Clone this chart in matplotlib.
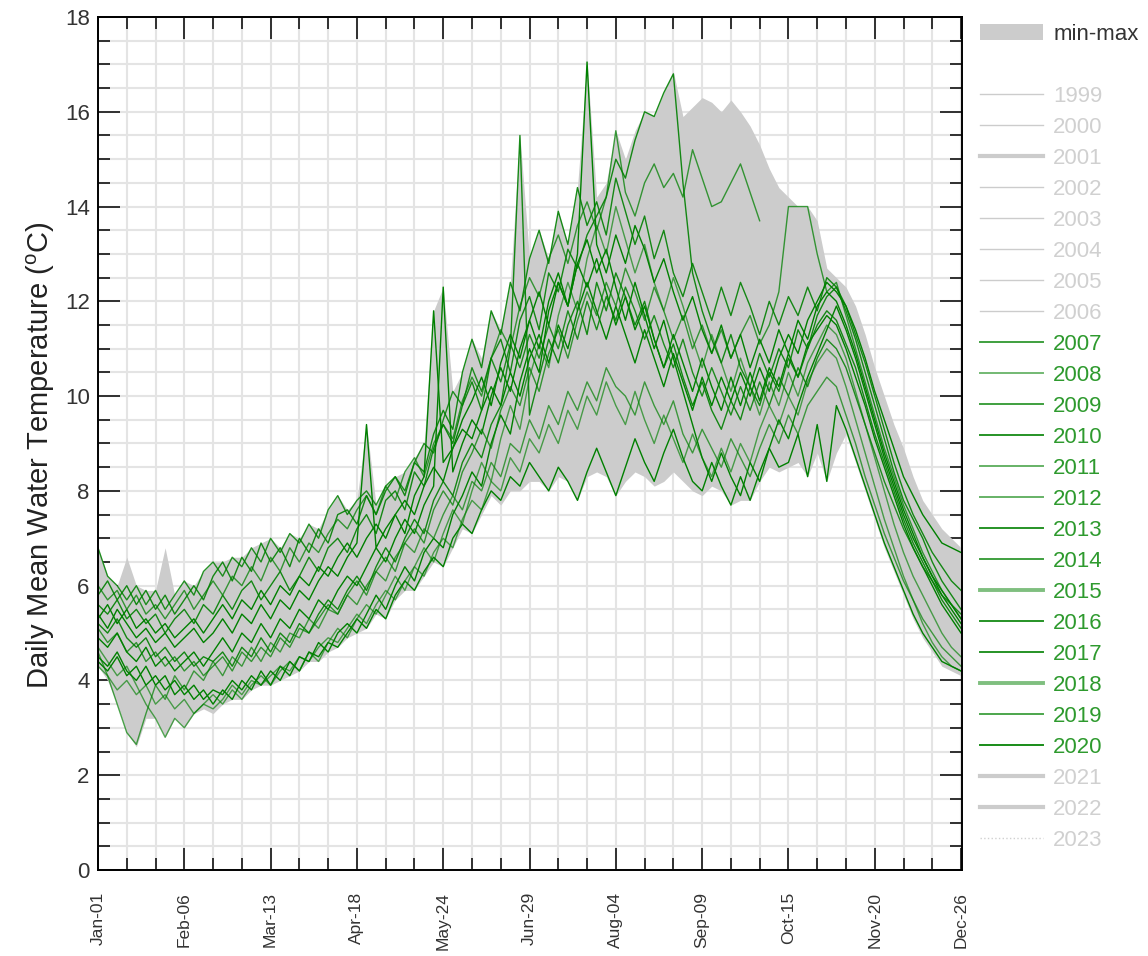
import numpy as np
import matplotlib
matplotlib.use("Agg")
import matplotlib.pyplot as plt
from matplotlib.lines import Line2D
from matplotlib.patches import Patch
from matplotlib.ticker import FixedLocator, MultipleLocator

plt.rcParams["font.family"] = ["Liberation Sans", "DejaVu Sans"]
plt.rcParams["mathtext.default"] = "regular"

nan = np.nan

# day of year, every 4th day (leap-year calendar)
days = np.arange(1, 362, 4)

tick_days = [1, 37, 73, 109, 145, 181, 217, 253, 289, 325, 361]
tick_labels = ["Jan-01", "Feb-06", "Mar-13", "Apr-18", "May-24", "Jun-29",
               "Aug-04", "Sep-09", "Oct-15", "Nov-20", "Dec-26"]

# daily mean water temperature (degC), one list per year
t2007 = [5.6, 5.4, 5.7, 5.3, 5.5, 5.2, 5.4, 5.0, 5.3, 5.5, 5.2, 5.6, 5.4,
         5.8, 5.5, 5.9, 6.1, 5.7, 6.0, 6.3, 5.9, 6.2, 6.6, 6.3, 6.8, 7.0,
         6.7, 7.2, 7.5, 7.1, 7.8, 8.0, 7.6, 8.4, 8.1, 8.9, 9.4, 9.0, 9.8,
         10.3, 9.7, 10.8, 11.2, 10.5, 11.6, 12.1, 11.4, 12.6, 12.2, 13.1, 12.7, 13.4,
         13.8, 14.2, 15.0, 14.6, 15.4, 16.0, 15.9, 16.4, 16.8, 14.5, 12.6, 11.8, 11.2,
         10.7, 11.3, 10.6, 10.2, 10.9, 10.4, 11.0, 10.6, 11.4, 11.0, 11.7, 12.1, 12.3,
         11.8, 11.2, 10.5, 9.8, 9.1, 8.4, 7.8, 7.4, 7.0, 6.5, 6.1, 5.8, 5.5]
t2008 = [4.6, 4.1, 3.5, 2.9, 2.65, 3.3, 3.9, 3.6, 4.1, 3.8, 4.2, 4.0, 4.4,
         4.1, 4.5, 4.3, 4.7, 4.4, 4.8, 4.6, 5.0, 4.9, 5.3, 5.1, 5.5, 5.4,
         5.8, 5.6, 6.0, 6.3, 6.1, 6.6, 6.9, 6.7, 7.2, 7.0, 7.5, 7.9, 7.6,
         8.2, 8.0, 8.6, 8.3, 9.0, 8.8, 9.5, 9.1, 9.8, 9.4, 10.1, 9.7, 10.3,
         9.9, 10.6, 10.2, 10.0, 9.6, 10.3, 9.8, 9.4, 9.9, 9.2, 8.8, 9.3, 8.9,
         8.5, 9.1, 8.7, 8.3, 8.9, 9.4, 9.0, 9.6, 9.2, 9.8, 10.1, 10.4, 10.2,
         9.6, 9.0, 8.3, 7.7, 7.1, 6.6, 6.1, 5.7, 5.3, 5.0, 4.7, 4.5, 4.3]
t2009 = [5.2, 5.0, 5.3, 4.9, 4.7, 4.9, 4.5, 4.7, 4.4, 4.6, 4.3, 4.5, 4.4,
         4.6, 4.3, 4.7, 4.5, 4.9, 4.6, 5.0, 4.8, 5.2, 5.0, 5.4, 5.7, 5.5,
         5.9, 6.2, 5.9, 6.4, 6.8, 6.5, 7.0, 7.4, 7.1, 7.8, 8.2, 7.9, 8.6,
         9.0, 8.7, 9.4, 9.8, 11.0, 15.5, 9.6, 10.4, 11.2, 10.7, 11.5, 12.0, 11.3,
         12.4, 11.8, 12.6, 12.1, 11.5, 12.0, 11.2, 10.6, 11.1, 10.4, 9.8, 10.3, 9.7,
         9.3, 9.9, 9.5, 10.2, 9.8, 10.5, 10.1, 10.8, 10.4, 11.0, 11.5, 11.8, 11.6,
         11.1, 10.6, 9.9, 9.2, 8.6, 8.0, 7.4, 6.9, 6.5, 6.1, 5.7, 5.4, 5.1]
t2010 = [4.5, 4.3, 4.6, 4.2, 4.0, 4.3, 3.9, 4.1, 3.7, 3.9, 3.6, 3.8, 3.5,
         3.8, 3.6, 4.0, 3.8, 4.2, 3.9, 4.3, 4.1, 4.5, 4.4, 4.8, 4.6, 5.0,
         5.2, 5.0, 5.4, 5.8, 5.5, 6.0, 6.4, 6.1, 6.7, 7.0, 6.8, 7.5, 7.9,
         8.4, 8.1, 9.0, 9.6, 9.2, 10.3, 11.0, 10.5, 11.8, 12.4, 11.9, 13.0, 17.05,
         13.2, 12.6, 13.4, 12.8, 13.6, 13.1, 12.4, 12.9, 12.2, 11.6, 12.1, 11.4, 10.9,
         11.5, 10.8, 11.3, 10.6, 11.2, 10.7, 11.4, 10.9, 11.6, 11.2, 11.9, 12.2, 12.0,
         11.5, 10.9, 10.2, 9.5, 8.8, 8.2, 7.6, 7.1, 6.6, 6.2, 5.9, 5.6, 5.3]
t2011 = [6.0, 5.7, 5.9, 5.5, 5.8, 5.4, 5.6, 5.3, 5.6, 5.9, 5.5, 5.8, 6.1,
         5.8, 6.2, 6.0, 6.4, 6.1, 6.6, 6.3, 6.8, 6.5, 6.9, 6.7, 7.1, 7.4,
         7.2, 7.6, 7.9, 7.5, 8.1, 7.8, 8.4, 8.7, 8.3, 9.0, 9.4, 9.1, 9.9,
         10.4, 10.0, 10.8, 11.4, 11.0, 11.9, 12.5, 12.1, 12.9, 13.4, 12.8, 13.6, 14.1,
         13.5, 14.2, 15.6, 14.3, 13.8, 14.5, 14.9, 14.4, 14.7, 14.2, 15.2, 14.6, 14.0,
         14.1, 14.5, 14.9, 14.3, 13.7, nan, nan, nan, nan, nan, nan, nan, nan,
         nan, nan, nan, nan, nan, nan, nan, nan, nan, nan, nan, nan, nan]
t2012 = [5.1, 4.8, 5.0, 4.6, 4.8, 4.4, 4.6, 4.3, 4.5, 4.2, 4.4, 4.1, 4.3,
         4.5, 4.2, 4.6, 4.4, 4.7, 4.5, 4.9, 4.7, 5.1, 5.0, 5.3, 5.6, 5.4,
         5.8, 6.1, 5.8, 6.3, 6.6, 6.3, 6.9, 7.2, 6.9, 7.6, 8.0, 7.7, 8.4,
         8.8, 9.3, 8.9, 9.7, 10.2, 9.8, 10.6, 10.1, 10.9, 11.4, 10.8, 11.6, 12.2,
         11.7, 12.4, 11.9, 12.7, 12.2, 11.6, 12.3, 11.8, 11.2, 11.7, 11.0, 11.5, 10.9,
         11.4, 10.8, 11.3, 11.7, 11.1, 11.5, 12.2, 14.0, 14.0, 14.0, 13.0, 12.2, 12.4,
         11.7, 11.0, 10.3, 9.6, 8.9, 8.3, 7.7, 7.2, 6.7, 6.3, 5.9, 5.6, 5.3]
t2013 = [4.4, 4.2, 4.5, 4.1, 4.3, 3.9, 4.1, 3.8, 4.0, 3.7, 3.9, 3.6, 3.8,
         3.7, 4.0, 3.8, 4.1, 3.9, 4.2, 4.0, 4.4, 4.2, 4.6, 4.5, 4.8, 4.7,
         5.0, 5.3, 5.1, 5.5, 5.3, 5.8, 6.1, 5.9, 6.3, 6.6, 6.4, 7.0, 7.3,
         7.1, 7.6, 8.0, 7.8, 8.3, 8.1, 8.6, 8.3, 8.0, 8.5, 8.2, 7.8, 8.4,
         8.9, 8.4, 7.9, 8.5, 9.1, 8.6, 8.2, 8.8, 9.3, 8.7, 8.2, 8.0, 8.6,
         8.1, 7.7, 8.3, 7.8, 8.4, 8.9, 8.5, 8.6, 9.2, 8.3, 9.4, 8.2, 9.8,
         9.3, 8.7, 8.1, 7.5, 6.9, 6.4, 5.9, 5.4, 5.0, 4.7, 4.4, 4.3, 4.2]
t2014 = [5.8, 6.1, 5.7, 6.0, 5.6, 5.9, 5.5, 5.8, 5.4, 5.7, 6.0, 5.7, 6.2,
         6.5, 6.1, 6.6, 6.3, 6.9, 6.5, 6.8, 6.4, 7.0, 6.7, 7.2, 6.9, 7.5,
         7.6, 7.3, 7.9, 7.5, 8.0, 8.3, 7.9, 8.6, 8.4, 9.2, 9.7, 9.3, 10.5,
         11.2, 10.6, 11.8, 11.3, 12.4, 11.8, 12.9, 13.5, 12.8, 13.9, 13.2, 14.4, 13.6,
         14.1, 13.4, 14.6, 13.9, 13.2, 13.8, 12.9, 13.5, 12.6, 12.1, 12.8, 12.2, 11.6,
         12.3, 11.7, 12.4, 11.9, 11.3, 12.0, 11.5, 12.1, 11.7, 12.3, 11.8, 12.5, 12.3,
         11.9, 11.3, 10.7, 10.0, 9.3, 8.6, 8.0, 7.5, 7.1, 6.7, 6.4, 6.1, 5.9]
t2015 = [4.7, 4.4, 4.1, 4.3, 3.9, 3.5, 3.2, 2.8, 3.2, 3.0, 3.3, 3.5, 3.4,
         3.6, 3.9, 3.7, 4.0, 3.9, 4.1, 4.3, 4.2, 4.5, 4.4, 4.7, 4.9, 4.8,
         5.1, 5.4, 5.2, 5.6, 5.9, 5.7, 6.1, 6.4, 6.2, 6.7, 7.0, 6.8, 7.4,
         7.8, 7.6, 8.2, 8.0, 8.7, 8.4, 9.1, 8.8, 9.4, 9.0, 9.7, 9.3, 10.0,
         9.6, 10.3, 9.8, 9.4, 10.1, 9.5, 9.0, 9.6, 9.1, 8.6, 9.2, 8.7, 8.3,
         8.9, 8.4, 9.0, 8.6, 9.3, 9.8, 9.4, 10.0, 9.6, 10.3, 10.7, 11.0, 10.8,
         10.2, 9.5, 8.8, 8.1, 7.4, 6.8, 6.2, 5.7, 5.2, 4.8, 4.5, 4.3, 4.2]
t2016 = [5.4, 5.1, 5.5, 5.2, 4.9, 5.1, 4.8, 5.0, 4.7, 4.9, 5.1, 4.8, 5.0,
         5.3, 5.0, 5.4, 5.2, 5.6, 5.3, 5.7, 5.5, 5.9, 5.7, 6.1, 6.4, 6.2,
         6.6, 6.9, 9.4, 6.8, 7.2, 7.5, 7.1, 7.9, 8.3, 11.8, 8.6, 8.9, 9.5,
         9.9, 10.4, 9.8, 10.7, 11.3, 10.8, 11.6, 12.2, 11.5, 12.4, 11.9, 12.8, 12.3,
         12.9, 12.2, 11.5, 12.1, 11.4, 11.9, 11.2, 10.6, 11.3, 10.7, 10.1, 10.8, 10.2,
         9.7, 10.4, 9.8, 10.5, 9.9, 10.6, 10.2, 10.9, 10.4, 11.1, 11.4, 11.7, 11.5,
         11.0, 10.4, 9.8, 9.1, 8.5, 7.9, 7.3, 6.8, 6.4, 6.0, 5.6, 5.3, 5.0]
t2017 = [4.9, 4.7, 5.0, 4.6, 4.4, 4.7, 4.3, 4.5, 4.2, 4.4, 4.6, 4.3, 4.6,
         4.9, 4.6, 5.0, 4.8, 5.2, 4.9, 5.3, 5.1, 5.5, 5.3, 5.7, 5.5, 5.9,
         6.2, 6.0, 6.4, 6.8, 6.5, 7.0, 7.4, 7.1, 7.7, 8.1, 12.3, 8.4, 9.0,
         9.5, 9.2, 10.0, 10.6, 10.1, 11.0, 11.6, 11.0, 12.0, 12.6, 11.9, 12.8, 13.3,
         12.6, 13.1, 12.3, 11.6, 12.4, 11.7, 11.0, 11.6, 10.8, 10.1, 9.4, 8.7, 8.2,
         8.8, 8.3, 7.9, 8.6, 8.2, 8.9, 9.5, 9.1, 9.8, 10.4, 10.9, 11.4, 11.9,
         11.4, 10.8, 10.1, 9.4, 8.7, 8.1, 7.5, 7.0, 6.6, 6.2, 5.8, 5.5, 5.2]
t2018 = [4.3, 4.1, 3.8, 4.0, 3.7, 3.9, 3.5, 3.7, 3.4, 3.6, 3.3, 3.5, 3.7,
         3.5, 3.8, 3.6, 3.9, 4.1, 3.9, 4.2, 4.4, 4.2, 4.6, 4.4, 4.8, 5.1,
         4.9, 5.3, 5.6, 5.4, 5.8, 6.2, 5.9, 6.4, 6.8, 6.5, 7.1, 7.6, 7.3,
         8.0, 8.6, 8.2, 9.1, 9.8, 9.3, 10.4, 11.1, 10.6, 11.7, 12.4, 11.8, 12.9,
         13.6, 13.0, 14.0, 13.3, 12.6, 13.2, 12.4, 11.8, 12.5, 11.9, 11.2, 10.6, 11.3,
         10.7, 10.1, 10.8, 10.2, 9.6, 10.3, 9.8, 10.5, 10.0, 10.7, 11.1, 11.5, 11.3,
         10.8, 10.1, 9.4, 8.7, 8.0, 7.3, 6.7, 6.2, 5.8, 5.4, 5.0, 4.7, 4.5]
t2019 = [6.8, 6.2, 6.0, 5.7, 6.0, 5.6, 5.9, 5.5, 5.8, 6.1, 5.8, 6.3, 6.5,
         6.2, 6.6, 6.4, 6.8, 6.5, 7.0, 6.7, 7.1, 6.9, 7.3, 7.0, 7.6, 7.9,
         7.5, 7.8, 8.0, 7.7, 8.1, 8.3, 8.0, 8.6, 9.0, 8.8, 9.5, 10.1, 9.8,
         10.6, 10.1, 10.8, 10.3, 11.1, 10.6, 11.3, 10.8, 11.5, 11.0, 11.8, 11.2, 12.0,
         11.4, 12.1, 11.6, 12.3, 11.8, 11.2, 11.7, 11.1, 10.6, 11.2, 10.5, 10.0, 10.6,
         10.1, 9.6, 10.2, 9.7, 10.3, 9.8, 10.4, 10.0, 10.6, 10.2, 10.8, 11.2, 11.0,
         10.6, 10.0, 9.4, 8.8, 8.2, 7.7, 7.2, 6.8, 6.4, 6.1, 5.8, 5.6, 5.4]
t2020 = [5.3, 5.6, 5.2, 5.5, 5.1, 5.3, 5.0, 5.2, 4.9, 5.1, 5.3, 5.0, 5.3,
         5.6, 5.3, 5.7, 5.5, 5.9, 5.6, 6.0, 5.8, 6.2, 6.0, 6.4, 6.2, 6.6,
         6.9, 6.6, 7.0, 7.3, 7.0, 7.5, 7.8, 7.5, 8.1, 8.5, 8.2, 8.9, 9.3,
         9.1, 9.7, 10.2, 9.8, 10.5, 10.0, 10.8, 11.3, 10.7, 11.5, 11.0, 11.8, 12.4,
         11.8, 11.2, 11.9, 11.3, 10.7, 11.4, 10.8, 10.2, 10.9, 10.3, 9.7, 10.4, 9.8,
         10.4, 9.9, 10.5, 10.0, 10.6, 10.1, 10.8, 11.3, 10.9, 11.6, 12.0, 12.4, 12.2,
         11.9, 11.4, 10.8, 10.1, 9.5, 8.9, 8.3, 7.9, 7.5, 7.2, 6.9, 6.8, 6.7]

# min-max envelope over all years of record
band_min = [4.3, 4.0, 3.5, 2.9, 2.6, 3.2, 3.2, 2.8, 3.2, 3.0, 3.3, 3.4, 3.3,
            3.5, 3.6, 3.6, 3.8, 3.9, 3.9, 4.0, 4.1, 4.2, 4.4, 4.4, 4.6, 4.7,
            4.9, 5.0, 5.1, 5.4, 5.3, 5.7, 5.9, 5.9, 6.2, 6.5, 6.4, 6.8, 7.2,
            7.1, 7.5, 7.9, 7.7, 8.0, 8.0, 8.2, 8.2, 8.0, 8.3, 8.2, 7.8, 8.3,
            8.4, 8.3, 7.9, 8.2, 8.4, 8.3, 8.1, 8.2, 8.4, 8.2, 8.0, 7.9, 8.1,
            8.0, 7.7, 7.8, 7.8, 8.2, 8.5, 8.4, 8.5, 8.6, 8.3, 8.8, 8.2, 8.8,
            9.2, 8.6, 8.0, 7.4, 6.8, 6.3, 5.8, 5.3, 4.9, 4.6, 4.3, 4.2, 4.1]
band_max = [6.8, 6.2, 6.0, 6.6, 6.0, 5.9, 5.9, 6.8, 5.8, 6.1, 6.0, 6.3, 6.5,
            6.5, 6.6, 6.6, 6.8, 6.9, 7.0, 6.8, 7.1, 7.0, 7.3, 7.2, 7.6, 7.9,
            7.6, 7.8, 9.4, 7.7, 8.1, 8.3, 8.4, 8.7, 9.0, 11.8, 12.3, 10.1, 10.5,
            11.2, 10.8, 11.8, 11.4, 12.4, 15.5, 12.9, 13.5, 12.9, 13.9, 13.2, 14.4, 17.05,
            14.2, 14.5, 15.6, 15.0, 15.6, 16.0, 15.9, 16.4, 16.85, 15.9, 16.1, 16.3, 16.2,
            16.0, 16.25, 16.0, 15.7, 15.3, 14.8, 14.4, 14.2, 14.0, 14.0, 13.7, 12.7, 12.5,
            12.3, 11.9, 11.3, 10.6, 10.0, 9.4, 8.9, 8.3, 7.8, 7.5, 7.2, 7.0, 6.8]

shown_years = [2007, 2008, 2009, 2010, 2011, 2012, 2013,
               2014, 2015, 2016, 2017, 2018, 2019, 2020]
shown_series = [t2007, t2008, t2009, t2010, t2011, t2012, t2013,
                t2014, t2015, t2016, t2017, t2018, t2019, t2020]
# legend swatch style per year
shown_alpha = [0.75, 0.55, 0.75, 0.85, 0.6, 0.6, 0.85,
               0.75, 0.5, 0.85, 0.85, 0.5, 0.7, 0.9]
shown_width = [1.0, 1.0, 1.0, 1.0, 1.0, 1.0, 1.0,
               1.0, 2.0, 1.0, 1.0, 2.0, 1.0, 1.0]

# years without data on this plot (listed in the legend only)
hidden_before = [1999, 2000, 2001, 2002, 2003, 2004, 2005, 2006]
hidden_after = [2021, 2022, 2023]

green = "#008000"
grey_line = "#cccccc"

fig = plt.figure(figsize=(11.48, 9.56), dpi=100)
ax = fig.add_axes([98 / 1148, 1 - 870 / 956, 864 / 1148, 853 / 956])

ax.fill_between(days, band_min, band_max, color="#cccccc", lw=0, zorder=2)
for vals, a in zip(shown_series, shown_alpha):
    ax.plot(days, vals, color=green, lw=1.0, alpha=min(1.0, a + 0.15),
            zorder=3)

ax.set_xlim(1, 361.4)
ax.set_ylim(0, 18)
ax.xaxis.set_major_locator(FixedLocator(tick_days))
ax.xaxis.set_minor_locator(FixedLocator(np.arange(1, 362, 12)))
ax.set_xticklabels(tick_labels, rotation=90, fontsize=12.5, color="#333333")
ax.yaxis.set_major_locator(MultipleLocator(2))
ax.yaxis.set_minor_locator(MultipleLocator(0.5))
for lab in ax.get_yticklabels():
    lab.set_fontsize(16)
    lab.set_color("#333333")

ax.set_axisbelow(True)
ax.grid(which="both", color="#e4e4e4", lw=1.5, zorder=0)
ax.tick_params(which="both", direction="in", top=True, right=True, width=1.3,
               color="#222222")
ax.tick_params(which="major", length=16)
ax.tick_params(which="minor", length=8.5)
ax.tick_params(axis="y", pad=6)
ax.tick_params(axis="x", pad=16)
for sp in ax.spines.values():
    sp.set_linewidth(1.4)
    sp.set_zorder(5)

ax.set_ylabel("Daily Mean Water Temperature ($^o$C)", fontsize=21,
              color="#222222",
              family=["Liberation Sans Narrow", "Liberation Sans"])
ax.yaxis.set_label_coords(-0.048, 0.486)

# legend: envelope, spacer row, then every year of record
handles = [Patch(facecolor="#cccccc", edgecolor="none"), Line2D([], [], lw=0)]
labels = ["min-max", " "]
colors = ["#333333", "#ffffff"]
for yr in hidden_before:
    handles.append(Line2D([], [], color=grey_line, lw=3 if yr == 2001 else 1))
    labels.append(str(yr))
    colors.append("#d0d0d0")
for yr, a, w in zip(shown_years, shown_alpha, shown_width):
    handles.append(Line2D([], [], color=green, alpha=a, lw=w * 1.4))
    labels.append(str(yr))
    colors.append("#2e9a2e")
for yr in hidden_after:
    if yr == 2023:
        handles.append(Line2D([], [], color="#d0d0d0", lw=1, ls=":"))
    else:
        handles.append(Line2D([], [], color=grey_line, lw=3))
    labels.append(str(yr))
    colors.append("#d0d0d0")

leg = fig.legend(handles, labels, loc="upper left",
                 bbox_to_anchor=(980 / 1148, 1 - 24 / 956),
                 frameon=False, fontsize=16, handlelength=2.85,
                 handletextpad=0.45, labelspacing=0.45,
                 borderpad=0, borderaxespad=0)
for txt, c in zip(leg.get_texts(), colors):
    txt.set_color(c)

fig.savefig("out.png", dpi=100)
